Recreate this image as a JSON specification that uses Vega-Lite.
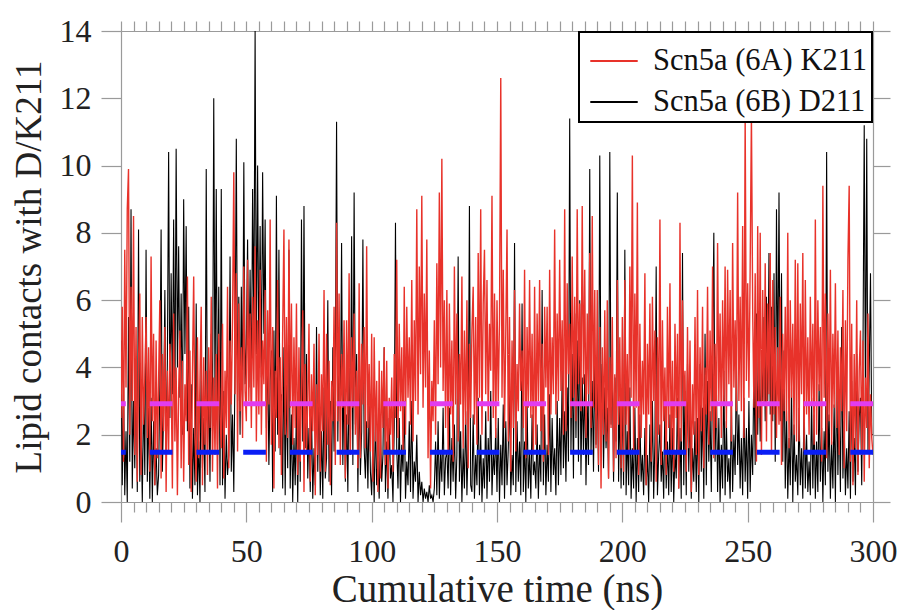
{
"$schema": "https://vega.github.io/schema/vega-lite/v6.json",
"width": 752, "height": 471,
"autosize": {"type": "none"},
"padding": {"left": 121, "top": 31, "right": 31, "bottom": 108},
"config": {
  "font": "Liberation Serif",
  "view": {"stroke": null},
  "axis": {"labelFont": "Liberation Serif", "titleFont": "Liberation Serif", "labelColor": "#222", "titleColor": "#222", "domainColor": "#9a9a9a", "tickColor": "#9a9a9a", "grid": false, "titleFontWeight": "normal", "domainWidth": 1.2, "tickWidth": 1.2},
  "legend": {"labelFont": "Liberation Serif", "labelFontSize": 30.5, "labelColor": "#111", "orient": "top-right", "offset": 1, "symbolType": "stroke", "symbolSize": 2250, "symbolStrokeWidth": 2.2, "padding": 4, "symbolOffset": 6, "rowPadding": 0, "fillColor": "white", "strokeColor": "black", "labelOffset": 14, "labelLimit": 400}
},
"data": {"values": [
{"t":0,"k":2.5,"d":4.8},{"t":0.5,"k":5.8,"d":0.5},{"t":1,"k":1.2,"d":3.6},{"t":1.5,"k":7.5,"d":0.2},{"t":2,"k":3.4,"d":2.1},{"t":2.5,"k":8.7,"d":0.0},{"t":3,"k":9.9,"d":5.5},{"t":3.5,"k":2.0,"d":1.2},{"t":4,"k":6.4,"d":8.7},{"t":4.5,"k":3.0,"d":0.4},
{"t":5,"k":8.5,"d":3.0},{"t":5.5,"k":1.4,"d":1.0},{"t":6,"k":5.2,"d":4.2},{"t":6.5,"k":0.6,"d":0.3},{"t":7,"k":4.1,"d":8.1},{"t":7.5,"k":6.2,"d":0.6},{"t":8,"k":0.8,"d":2.4},{"t":8.5,"k":5.5,"d":0.0},{"t":9,"k":2.3,"d":3.3},{"t":9.5,"k":3.7,"d":0.8},
{"t":10,"k":5.5,"d":7.5},{"t":10.5,"k":1.9,"d":0.6},{"t":11,"k":4.6,"d":2.8},{"t":11.5,"k":0.9,"d":0.1},{"t":12,"k":7.3,"d":3.1},{"t":12.5,"k":2.4,"d":0.0},{"t":13,"k":5.0,"d":2.4},{"t":13.5,"k":0.5,"d":0.5},{"t":14,"k":4.8,"d":1.6},{"t":14.5,"k":1.3,"d":0.2},
{"t":15,"k":3.6,"d":0.8},{"t":15.5,"k":6.0,"d":3.5},{"t":16,"k":0.7,"d":8.1},{"t":16.5,"k":4.4,"d":0.9},{"t":17,"k":2.1,"d":2.7},{"t":17.5,"k":5.2,"d":6.3},{"t":18,"k":0.3,"d":1.4},{"t":18.5,"k":3.9,"d":4.2},{"t":19,"k":1.5,"d":10.4},{"t":19.5,"k":4.7,"d":2.5},
{"t":20,"k":3.8,"d":6.8},{"t":20.5,"k":0.4,"d":3.2},{"t":21,"k":5.6,"d":8.4},{"t":21.5,"k":1.8,"d":2.7},{"t":22,"k":4.0,"d":10.5},{"t":22.5,"k":0.2,"d":4.0},{"t":23,"k":3.3,"d":7.6},{"t":23.5,"k":5.1,"d":3.1},{"t":24,"k":1.0,"d":6.2},{"t":24.5,"k":4.2,"d":2.0},
{"t":25,"k":0.6,"d":9.0},{"t":25.5,"k":3.5,"d":4.4},{"t":26,"k":2.4,"d":8.2},{"t":26.5,"k":6.7,"d":2.1},{"t":27,"k":1.1,"d":5.8},{"t":27.5,"k":4.5,"d":0.4},{"t":28,"k":0.3,"d":3.5},{"t":28.5,"k":3.8,"d":0.1},{"t":29,"k":6.7,"d":2.2},{"t":29.5,"k":2.0,"d":0.5},
{"t":30,"k":0.6,"d":5.9},{"t":30.5,"k":4.9,"d":0.2},{"t":31,"k":1.3,"d":1.8},{"t":31.5,"k":3.6,"d":0.0},{"t":32,"k":5.8,"d":4.1},{"t":32.5,"k":0.5,"d":1.0},{"t":33,"k":4.3,"d":2.5},{"t":33.5,"k":1.7,"d":0.3},{"t":34,"k":3.9,"d":9.9},{"t":34.5,"k":0.8,"d":1.4},
{"t":35,"k":4.6,"d":3.6},{"t":35.5,"k":2.2,"d":0.6},{"t":36,"k":6.1,"d":5.0},{"t":36.5,"k":0.9,"d":2.1},{"t":37,"k":3.7,"d":12.0},{"t":37.5,"k":1.4,"d":3.0},{"t":38,"k":4.4,"d":9.3},{"t":38.5,"k":0.4,"d":1.7},{"t":39,"k":5.0,"d":6.4},{"t":39.5,"k":2.6,"d":0.5},
{"t":40,"k":1.6,"d":9.3},{"t":40.5,"k":5.3,"d":0.5},{"t":41,"k":0.7,"d":3.3},{"t":41.5,"k":3.9,"d":0.1},{"t":42,"k":2.2,"d":2.0},{"t":42.5,"k":6.4,"d":0.8},{"t":43,"k":1.0,"d":1.4},{"t":43.5,"k":4.8,"d":7.3},{"t":44,"k":2.9,"d":0.9},{"t":44.5,"k":5.5,"d":2.6},
{"t":45,"k":9.8,"d":0.3},{"t":45.5,"k":3.2,"d":4.2},{"t":46,"k":6.8,"d":10.8},{"t":46.5,"k":1.5,"d":3.0},{"t":47,"k":5.9,"d":6.1},{"t":47.5,"k":2.7,"d":2.0},{"t":48,"k":4.6,"d":6.4},{"t":48.5,"k":1.9,"d":2.9},{"t":49,"k":7.0,"d":10.1},{"t":49.5,"k":3.3,"d":3.5},
{"t":50,"k":2.4,"d":4.6},{"t":50.5,"k":7.2,"d":7.8},{"t":51,"k":3.0,"d":3.4},{"t":51.5,"k":5.6,"d":6.9},{"t":52,"k":2.2,"d":3.0},{"t":52.5,"k":6.1,"d":9.3},{"t":53,"k":3.4,"d":5.2},{"t":53.5,"k":7.6,"d":14.0},{"t":54,"k":1.8,"d":4.4},{"t":54.5,"k":5.4,"d":10.0},
{"t":55,"k":2.6,"d":4.1},{"t":55.5,"k":6.9,"d":8.2},{"t":56,"k":2.0,"d":3.7},{"t":56.5,"k":4.8,"d":9.8},{"t":57,"k":3.5,"d":5.0},{"t":57.5,"k":6.3,"d":8.4},{"t":58,"k":1.2,"d":2.2},{"t":58.5,"k":5.7,"d":4.5},{"t":59,"k":2.9,"d":1.1},{"t":59.5,"k":8.4,"d":3.6},
{"t":60,"k":1.7,"d":4.5},{"t":60.5,"k":5.2,"d":0.3},{"t":61,"k":0.4,"d":5.1},{"t":61.5,"k":3.9,"d":1.5},{"t":62,"k":2.5,"d":9.1},{"t":62.5,"k":6.6,"d":2.0},{"t":63,"k":1.6,"d":7.5},{"t":63.5,"k":4.3,"d":1.4},{"t":64,"k":0.8,"d":3.2},{"t":64.5,"k":5.1,"d":0.4},
{"t":65,"k":8.1,"d":4.6},{"t":65.5,"k":2.0,"d":0.2},{"t":66,"k":5.5,"d":3.8},{"t":66.5,"k":1.9,"d":1.0},{"t":67,"k":7.8,"d":7.5},{"t":67.5,"k":2.8,"d":0.4},{"t":68,"k":5.9,"d":2.6},{"t":68.5,"k":1.7,"d":0.0},{"t":69,"k":4.9,"d":1.9},{"t":69.5,"k":2.2,"d":0.5},
{"t":70,"k":5.9,"d":2.9},{"t":70.5,"k":0.8,"d":0.0},{"t":71,"k":4.6,"d":3.3},{"t":71.5,"k":1.2,"d":0.6},{"t":72,"k":3.4,"d":8.4},{"t":72.5,"k":5.7,"d":1.8},{"t":73,"k":0.3,"d":8.8},{"t":73.5,"k":4.1,"d":1.6},{"t":74,"k":1.5,"d":4.4},{"t":74.5,"k":3.0,"d":0.7},
{"t":75,"k":5.3,"d":2.2},{"t":75.5,"k":0.6,"d":0.3},{"t":76,"k":3.8,"d":2.7},{"t":76.5,"k":2.1,"d":0.1},{"t":77,"k":4.7,"d":1.6},{"t":77.5,"k":0.2,"d":0.5},{"t":78,"k":3.5,"d":5.2},{"t":78.5,"k":1.4,"d":0.9},{"t":79,"k":5.0,"d":3.4},{"t":79.5,"k":0.9,"d":0.2},
{"t":80,"k":3.8,"d":2.1},{"t":80.5,"k":2.1,"d":0.1},{"t":81,"k":6.3,"d":3.4},{"t":81.5,"k":0.9,"d":0.7},{"t":82,"k":5.0,"d":1.3},{"t":82.5,"k":1.7,"d":6.0},{"t":83,"k":4.2,"d":0.6},{"t":83.5,"k":0.5,"d":3.0},{"t":84,"k":3.6,"d":0.2},{"t":84.5,"k":2.4,"d":4.6},
{"t":85,"k":5.8,"d":1.5},{"t":85.5,"k":1.1,"d":3.7},{"t":86,"k":8.3,"d":11.3},{"t":86.5,"k":2.4,"d":1.8},{"t":87,"k":6.2,"d":5.2},{"t":87.5,"k":1.1,"d":2.4},{"t":88,"k":4.4,"d":7.7},{"t":88.5,"k":2.8,"d":1.1},{"t":89,"k":5.4,"d":3.8},{"t":89.5,"k":0.7,"d":0.6},
{"t":90,"k":5.4,"d":2.6},{"t":90.5,"k":2.3,"d":0.3},{"t":91,"k":6.8,"d":4.0},{"t":91.5,"k":1.4,"d":1.5},{"t":92,"k":4.9,"d":7.9},{"t":92.5,"k":2.8,"d":1.1},{"t":93,"k":5.6,"d":9.2},{"t":93.5,"k":2.0,"d":2.3},{"t":94,"k":3.9,"d":4.4},{"t":94.5,"k":1.0,"d":0.3},
{"t":95,"k":6.5,"d":3.5},{"t":95.5,"k":1.3,"d":0.8},{"t":96,"k":4.7,"d":2.1},{"t":96.5,"k":2.9,"d":7.8},{"t":97,"k":5.2,"d":1.6},{"t":97.5,"k":1.6,"d":0.7},{"t":98,"k":7.6,"d":2.4},{"t":98.5,"k":2.2,"d":0.4},{"t":99,"k":4.1,"d":3.1},{"t":99.5,"k":1.5,"d":0.9},
{"t":100,"k":5.0,"d":0.2},{"t":100.5,"k":0.6,"d":1.9},{"t":101,"k":4.9,"d":0.0},{"t":101.5,"k":1.8,"d":2.6},{"t":102,"k":3.6,"d":0.5},{"t":102.5,"k":0.3,"d":1.2},{"t":103,"k":4.2,"d":0.1},{"t":103.5,"k":0.7,"d":2.2},{"t":104,"k":3.9,"d":0.6},{"t":104.5,"k":2.2,"d":1.4},
{"t":105,"k":4.6,"d":4.6},{"t":105.5,"k":1.1,"d":0.3},{"t":106,"k":4.2,"d":1.8},{"t":106.5,"k":0.4,"d":0.1},{"t":107,"k":3.1,"d":2.5},{"t":107.5,"k":2.0,"d":0.7},{"t":108,"k":3.7,"d":1.1},{"t":108.5,"k":0.9,"d":0.0},{"t":109,"k":4.4,"d":2.2},{"t":109.5,"k":2.5,"d":8.3},
{"t":110,"k":7.2,"d":1.6},{"t":110.5,"k":1.9,"d":0.4},{"t":111,"k":5.3,"d":2.5},{"t":111.5,"k":2.7,"d":0.0},{"t":112,"k":4.6,"d":1.7},{"t":112.5,"k":1.5,"d":0.9},{"t":113,"k":6.4,"d":3.0},{"t":113.5,"k":2.0,"d":0.1},{"t":114,"k":5.8,"d":1.2},{"t":114.5,"k":3.1,"d":0.5},
{"t":115,"k":4.9,"d":2.4},{"t":115.5,"k":2.3,"d":0.3},{"t":116,"k":6.6,"d":3.0},{"t":116.5,"k":1.8,"d":0.1},{"t":117,"k":5.4,"d":1.2},{"t":117.5,"k":3.0,"d":0.6},{"t":118,"k":8.7,"d":2.0},{"t":118.5,"k":2.6,"d":0.0},{"t":119,"k":7.0,"d":0.9},{"t":119.5,"k":3.8,"d":0.2},
{"t":120,"k":9.1,"d":0.6},{"t":120.5,"k":2.8,"d":0.0},{"t":121,"k":6.2,"d":0.4},{"t":121.5,"k":3.4,"d":0.1},{"t":122,"k":7.8,"d":0.3},{"t":122.5,"k":1.3,"d":0.0},{"t":123,"k":4.5,"d":0.5},{"t":123.5,"k":0.4,"d":0.1},{"t":124,"k":3.6,"d":0.2},{"t":124.5,"k":2.4,"d":0.0},
{"t":125,"k":5.4,"d":0.4},{"t":125.5,"k":2.0,"d":1.8},{"t":126,"k":7.1,"d":0.2},{"t":126.5,"k":3.5,"d":2.4},{"t":127,"k":9.2,"d":0.1},{"t":127.5,"k":4.0,"d":1.5},{"t":128,"k":10.2,"d":0.6},{"t":128.5,"k":3.3,"d":2.8},{"t":129,"k":6.0,"d":0.2},{"t":129.5,"k":2.2,"d":1.3},
{"t":130,"k":6.3,"d":1.5},{"t":130.5,"k":1.4,"d":0.4},{"t":131,"k":5.9,"d":2.8},{"t":131.5,"k":2.6,"d":0.2},{"t":132,"k":4.8,"d":1.9},{"t":132.5,"k":1.2,"d":0.6},{"t":133,"k":7.0,"d":2.3},{"t":133.5,"k":2.9,"d":0.1},{"t":134,"k":5.6,"d":1.4},{"t":134.5,"k":1.8,"d":7.3},
{"t":135,"k":4.4,"d":0.6},{"t":135.5,"k":2.9,"d":2.1},{"t":136,"k":6.7,"d":0.0},{"t":136.5,"k":1.6,"d":1.6},{"t":137,"k":5.1,"d":0.4},{"t":137.5,"k":2.3,"d":2.7},{"t":138,"k":6.0,"d":0.2},{"t":138.5,"k":1.0,"d":1.8},{"t":139,"k":4.7,"d":8.8},{"t":139.5,"k":2.5,"d":0.5},
{"t":140,"k":5.1,"d":0.3},{"t":140.5,"k":6.4,"d":2.6},{"t":141,"k":2.3,"d":0.1},{"t":141.5,"k":5.5,"d":1.4},{"t":142,"k":1.7,"d":0.5},{"t":142.5,"k":7.4,"d":3.1},{"t":143,"k":3.1,"d":0.2},{"t":143.5,"k":8.7,"d":2.0},{"t":144,"k":2.0,"d":0.0},{"t":144.5,"k":5.9,"d":1.3},
{"t":145,"k":7.5,"d":0.4},{"t":145.5,"k":3.2,"d":2.7},{"t":146,"k":6.6,"d":0.1},{"t":146.5,"k":2.4,"d":1.9},{"t":147,"k":5.3,"d":0.6},{"t":147.5,"k":3.9,"d":3.3},{"t":148,"k":9.1,"d":0.2},{"t":148.5,"k":2.5,"d":1.5},{"t":149,"k":6.2,"d":0.8},{"t":149.5,"k":1.9,"d":2.2},
{"t":150,"k":6.0,"d":0.3},{"t":150.5,"k":3.0,"d":2.5},{"t":151,"k":5.4,"d":0.0},{"t":151.5,"k":12.6,"d":1.7},{"t":152,"k":3.1,"d":0.5},{"t":152.5,"k":6.9,"d":2.9},{"t":153,"k":2.2,"d":0.1},{"t":153.5,"k":5.0,"d":2.4},{"t":154,"k":8.1,"d":0.5},{"t":154.5,"k":1.8,"d":1.6},
{"t":155,"k":5.5,"d":3.3},{"t":155.5,"k":0.9,"d":0.2},{"t":156,"k":4.8,"d":1.4},{"t":156.5,"k":2.2,"d":0.5},{"t":157,"k":6.3,"d":7.7},{"t":157.5,"k":1.5,"d":0.3},{"t":158,"k":4.1,"d":2.4},{"t":158.5,"k":2.7,"d":0.6},{"t":159,"k":5.9,"d":1.8},{"t":159.5,"k":3.3,"d":0.2},
{"t":160,"k":4.5,"d":5.9},{"t":160.5,"k":2.2,"d":0.3},{"t":161,"k":6.9,"d":1.8},{"t":161.5,"k":1.3,"d":0.0},{"t":162,"k":5.2,"d":2.9},{"t":162.5,"k":2.8,"d":0.4},{"t":163,"k":6.6,"d":1.5},{"t":163.5,"k":2.5,"d":0.1},{"t":164,"k":5.0,"d":2.6},{"t":164.5,"k":1.4,"d":0.8},
{"t":165,"k":6.4,"d":1.2},{"t":165.5,"k":1.7,"d":0.4},{"t":166,"k":5.6,"d":2.3},{"t":166.5,"k":3.0,"d":0.1},{"t":167,"k":6.6,"d":1.7},{"t":167.5,"k":2.1,"d":0.6},{"t":168,"k":4.7,"d":6.3},{"t":168.5,"k":1.2,"d":0.5},{"t":169,"k":5.8,"d":2.6},{"t":169.5,"k":3.4,"d":0.2},
{"t":170,"k":5.8,"d":1.7},{"t":170.5,"k":1.4,"d":0.6},{"t":171,"k":6.9,"d":3.2},{"t":171.5,"k":2.6,"d":0.3},{"t":172,"k":4.9,"d":2.5},{"t":172.5,"k":3.2,"d":0.8},{"t":173,"k":8.1,"d":1.6},{"t":173.5,"k":2.6,"d":0.2},{"t":174,"k":5.6,"d":3.0},{"t":174.5,"k":3.0,"d":0.5},
{"t":175,"k":7.2,"d":2.5},{"t":175.5,"k":3.3,"d":0.8},{"t":176,"k":5.4,"d":3.9},{"t":176.5,"k":2.0,"d":1.0},{"t":177,"k":8.7,"d":2.7},{"t":177.5,"k":2.1,"d":0.6},{"t":178,"k":6.5,"d":3.4},{"t":178.5,"k":3.8,"d":1.2},{"t":179,"k":5.3,"d":11.4},{"t":179.5,"k":2.5,"d":1.5},
{"t":180,"k":7.3,"d":4.4},{"t":180.5,"k":3.1,"d":0.7},{"t":181,"k":6.1,"d":5.6},{"t":181.5,"k":2.4,"d":1.9},{"t":182,"k":8.7,"d":4.8},{"t":182.5,"k":3.5,"d":1.2},{"t":183,"k":5.9,"d":6.0},{"t":183.5,"k":2.7,"d":0.8},{"t":184,"k":8.8,"d":3.7},{"t":184.5,"k":3.5,"d":1.4},
{"t":185,"k":6.9,"d":3.8},{"t":185.5,"k":1.9,"d":0.5},{"t":186,"k":5.6,"d":2.9},{"t":186.5,"k":3.2,"d":1.1},{"t":187,"k":7.4,"d":9.9},{"t":187.5,"k":2.2,"d":1.4},{"t":188,"k":8.5,"d":3.6},{"t":188.5,"k":2.8,"d":0.9},{"t":189,"k":6.3,"d":4.2},{"t":189.5,"k":1.6,"d":1.7},
{"t":190,"k":6.3,"d":3.6},{"t":190.5,"k":1.1,"d":0.9},{"t":191,"k":5.2,"d":10.3},{"t":191.5,"k":0.4,"d":2.3},{"t":192,"k":4.6,"d":4.1},{"t":192.5,"k":2.0,"d":1.0},{"t":193,"k":5.7,"d":3.4},{"t":193.5,"k":1.8,"d":1.6},{"t":194,"k":6.0,"d":2.8},{"t":194.5,"k":0.7,"d":0.7},
{"t":195,"k":4.3,"d":10.4},{"t":195.5,"k":2.2,"d":2.3},{"t":196,"k":5.5,"d":4.1},{"t":196.5,"k":0.9,"d":0.6},{"t":197,"k":3.8,"d":3.7},{"t":197.5,"k":1.3,"d":1.8},{"t":198,"k":6.6,"d":9.2},{"t":198.5,"k":2.3,"d":0.6},{"t":199,"k":4.9,"d":3.0},{"t":199.5,"k":1.0,"d":0.4},
{"t":200,"k":5.5,"d":3.2},{"t":200.5,"k":0.9,"d":0.5},{"t":201,"k":6.6,"d":7.5},{"t":201.5,"k":2.3,"d":0.2},{"t":202,"k":4.4,"d":2.1},{"t":202.5,"k":1.5,"d":0.5},{"t":203,"k":7.0,"d":3.4},{"t":203.5,"k":3.1,"d":0.1},{"t":204,"k":10.3,"d":1.6},{"t":204.5,"k":1.5,"d":0.4},
{"t":205,"k":6.2,"d":2.8},{"t":205.5,"k":2.8,"d":0.0},{"t":206,"k":8.9,"d":1.9},{"t":206.5,"k":0.8,"d":0.3},{"t":207,"k":5.3,"d":2.6},{"t":207.5,"k":1.9,"d":0.6},{"t":208,"k":4.2,"d":1.4},{"t":208.5,"k":2.6,"d":0.2},{"t":209,"k":6.8,"d":2.2},{"t":209.5,"k":0.5,"d":0.5},
{"t":210,"k":4.7,"d":1.4},{"t":210.5,"k":2.6,"d":0.0},{"t":211,"k":5.9,"d":2.3},{"t":211.5,"k":1.2,"d":0.6},{"t":212,"k":6.1,"d":3.0},{"t":212.5,"k":3.0,"d":0.1},{"t":213,"k":5.1,"d":1.8},{"t":213.5,"k":0.6,"d":7.0},{"t":214,"k":4.9,"d":0.2},{"t":214.5,"k":2.0,"d":1.4},
{"t":215,"k":8.4,"d":2.3},{"t":215.5,"k":1.1,"d":0.6},{"t":216,"k":5.4,"d":1.5},{"t":216.5,"k":2.4,"d":0.1},{"t":217,"k":4.0,"d":3.0},{"t":217.5,"k":0.8,"d":0.4},{"t":218,"k":5.8,"d":1.8},{"t":218.5,"k":2.2,"d":0.2},{"t":219,"k":6.5,"d":2.6},{"t":219.5,"k":1.4,"d":0.3},
{"t":220,"k":4.2,"d":2.2},{"t":220.5,"k":0.9,"d":0.0},{"t":221,"k":5.3,"d":1.5},{"t":221.5,"k":2.5,"d":0.7},{"t":222,"k":5.0,"d":3.1},{"t":222.5,"k":0.4,"d":0.4},{"t":223,"k":8.3,"d":2.2},{"t":223.5,"k":1.8,"d":0.1},{"t":224,"k":6.0,"d":7.4},{"t":224.5,"k":2.9,"d":0.5},
{"t":225,"k":3.9,"d":3.3},{"t":225.5,"k":0.9,"d":0.2},{"t":226,"k":5.2,"d":4.1},{"t":226.5,"k":1.6,"d":0.9},{"t":227,"k":4.8,"d":2.8},{"t":227.5,"k":0.3,"d":0.1},{"t":228,"k":3.5,"d":1.6},{"t":228.5,"k":2.0,"d":0.6},{"t":229,"k":5.5,"d":2.4},{"t":229.5,"k":1.4,"d":0.3},
{"t":230,"k":6.3,"d":2.5},{"t":230.5,"k":0.8,"d":0.0},{"t":231,"k":4.6,"d":4.1},{"t":231.5,"k":2.1,"d":0.9},{"t":232,"k":5.8,"d":2.8},{"t":232.5,"k":1.0,"d":0.1},{"t":233,"k":4.0,"d":5.0},{"t":233.5,"k":2.6,"d":0.5},{"t":234,"k":6.4,"d":3.6},{"t":234.5,"k":1.7,"d":1.2},
{"t":235,"k":5.1,"d":2.7},{"t":235.5,"k":2.4,"d":0.3},{"t":236,"k":7.0,"d":4.2},{"t":236.5,"k":1.3,"d":8.0},{"t":237,"k":4.7,"d":1.2},{"t":237.5,"k":2.2,"d":3.6},{"t":238,"k":7.7,"d":0.3},{"t":238.5,"k":3.0,"d":2.5},{"t":239,"k":5.6,"d":0.0},{"t":239.5,"k":1.9,"d":1.7},
{"t":240,"k":6.0,"d":0.4},{"t":240.5,"k":2.9,"d":3.9},{"t":241,"k":7.0,"d":0.2},{"t":241.5,"k":2.2,"d":2.4},{"t":242,"k":6.9,"d":0.6},{"t":242.5,"k":3.5,"d":1.3},{"t":243,"k":6.3,"d":0.1},{"t":243.5,"k":1.8,"d":3.0},{"t":244,"k":7.7,"d":0.3},{"t":244.5,"k":3.4,"d":2.0},
{"t":245,"k":5.4,"d":0.8},{"t":245.5,"k":2.7,"d":4.2},{"t":246,"k":9.2,"d":1.1},{"t":246.5,"k":3.0,"d":2.6},{"t":247,"k":6.1,"d":0.4},{"t":247.5,"k":2.7,"d":1.9},{"t":248,"k":8.2,"d":0.2},{"t":248.5,"k":1.9,"d":3.1},{"t":249,"k":11.5,"d":0.6},{"t":249.5,"k":3.6,"d":2.2},
{"t":250,"k":6.5,"d":0.1},{"t":250.5,"k":3.1,"d":3.0},{"t":251,"k":7.0,"d":0.3},{"t":251.5,"k":11.5,"d":2.0},{"t":252,"k":5.7,"d":0.8},{"t":252.5,"k":2.8,"d":4.2},{"t":253,"k":6.8,"d":1.1},{"t":253.5,"k":1.2,"d":5.6},{"t":254,"k":8.2,"d":2.0},{"t":254.5,"k":2.5,"d":4.4},
{"t":255,"k":8.0,"d":1.8},{"t":255.5,"k":1.4,"d":4.2},{"t":256,"k":6.3,"d":3.0},{"t":256.5,"k":2.9,"d":5.5},{"t":257,"k":7.1,"d":2.4},{"t":257.5,"k":1.8,"d":6.1},{"t":258,"k":5.9,"d":3.0},{"t":258.5,"k":3.2,"d":7.4},{"t":259,"k":7.4,"d":2.6},{"t":259.5,"k":1.5,"d":5.8},
{"t":260,"k":6.6,"d":2.4},{"t":260.5,"k":2.6,"d":6.8},{"t":261,"k":5.2,"d":1.2},{"t":261.5,"k":1.9,"d":8.7},{"t":262,"k":4.6,"d":3.3},{"t":262.5,"k":2.3,"d":9.2},{"t":263,"k":6.1,"d":2.4},{"t":263.5,"k":1.1,"d":6.8},{"t":264,"k":5.0,"d":1.2},{"t":264.5,"k":2.7,"d":4.5},
{"t":265,"k":5.8,"d":0.4},{"t":265.5,"k":2.4,"d":2.7},{"t":266,"k":8.0,"d":0.1},{"t":266.5,"k":1.6,"d":1.9},{"t":267,"k":6.0,"d":0.5},{"t":267.5,"k":3.1,"d":3.4},{"t":268,"k":5.3,"d":0.0},{"t":268.5,"k":2.0,"d":2.3},{"t":269,"k":7.2,"d":0.6},{"t":269.5,"k":1.8,"d":1.4},
{"t":270,"k":7.1,"d":0.2},{"t":270.5,"k":1.8,"d":2.8},{"t":271,"k":5.9,"d":0.5},{"t":271.5,"k":3.2,"d":1.6},{"t":272,"k":7.4,"d":0.1},{"t":272.5,"k":1.5,"d":3.1},{"t":273,"k":6.6,"d":0.4},{"t":273.5,"k":2.6,"d":2.0},{"t":274,"k":4.9,"d":0.3},{"t":274.5,"k":2.0,"d":1.2},
{"t":275,"k":6.1,"d":0.2},{"t":275.5,"k":2.9,"d":3.1},{"t":276,"k":5.3,"d":0.4},{"t":276.5,"k":1.7,"d":2.6},{"t":277,"k":8.4,"d":0.1},{"t":277.5,"k":2.0,"d":1.8},{"t":278,"k":6.0,"d":0.3},{"t":278.5,"k":3.3,"d":3.5},{"t":279,"k":5.2,"d":0.6},{"t":279.5,"k":1.2,"d":2.2},
{"t":280,"k":9.4,"d":0.0},{"t":280.5,"k":3.1,"d":2.1},{"t":281,"k":6.2,"d":0.5},{"t":281.5,"k":1.3,"d":10.4},{"t":282,"k":5.6,"d":0.9},{"t":282.5,"k":2.4,"d":2.6},{"t":283,"k":6.9,"d":0.1},{"t":283.5,"k":1.7,"d":1.8},{"t":284,"k":5.0,"d":0.4},{"t":284.5,"k":2.8,"d":2.9},
{"t":285,"k":6.5,"d":0.0},{"t":285.5,"k":2.2,"d":4.0},{"t":286,"k":5.1,"d":0.8},{"t":286.5,"k":1.4,"d":2.9},{"t":287,"k":4.6,"d":0.3},{"t":287.5,"k":2.7,"d":5.2},{"t":288,"k":6.3,"d":0.7},{"t":288.5,"k":1.0,"d":2.4},{"t":289,"k":5.4,"d":0.2},{"t":289.5,"k":2.1,"d":1.6},
{"t":290,"k":7.2,"d":0.4},{"t":290.5,"k":9.4,"d":2.7},{"t":291,"k":1.2,"d":0.1},{"t":291.5,"k":5.3,"d":3.6},{"t":292,"k":0.5,"d":0.6},{"t":292.5,"k":4.4,"d":1.9},{"t":293,"k":1.6,"d":0.2},{"t":293.5,"k":6.0,"d":4.4},{"t":294,"k":0.8,"d":0.9},{"t":294.5,"k":3.9,"d":2.5},
{"t":295,"k":5.1,"d":3.1},{"t":295.5,"k":1.4,"d":0.5},{"t":296,"k":4.8,"d":4.4},{"t":296.5,"k":0.6,"d":11.2},{"t":297,"k":3.7,"d":2.6},{"t":297.5,"k":2.2,"d":10.8},{"t":298,"k":5.6,"d":1.5},{"t":298.5,"k":1.0,"d":3.9},{"t":299,"k":3.2,"d":6.8},{"t":299.5,"k":1.9,"d":2.0},
{"t":300,"k":1.4,"d":2.0}
]},
"layer": [
  {
    "mark": {"type": "line", "strokeWidth": 1.1, "clip": true},
    "encoding": {
      "x": {"field": "t", "type": "quantitative", "scale": {"domain": [0, 300], "nice": false},
        "axis": {"orient": "top", "values": [0,5,10,15,20,25,30,35,40,45,50,55,60,65,70,75,80,85,90,95,100,105,110,115,120,125,130,135,140,145,150,155,160,165,170,175,180,185,190,195,200,205,210,215,220,225,230,235,240,245,250,255,260,265,270,275,280,285,290,295,300], "tickSize": 10, "labels": false, "title": null}},
      "y": {"field": "d", "type": "quantitative", "scale": {"domain": [0, 14], "nice": false},
        "axis": {"orient": "right", "values": [0,2,4,6,8,10,12,14], "tickSize": 17, "labels": false, "title": null}},
      "color": {"datum": "Scn5a (6B) D211", "type": "nominal",
        "scale": {"domain": ["Scn5a (6A) K211", "Scn5a (6B) D211"], "range": ["#e8322a", "#000000"]},
        "legend": {"title": null, "encode": {"legend": {"update": {"strokeWidth": {"value": 2}}}}}}
    }
  },
  {
    "mark": {"type": "line", "strokeWidth": 1.4, "clip": true},
    "encoding": {
      "x": {"field": "t", "type": "quantitative",
        "axis": {"orient": "bottom", "values": [0,5,10,15,20,25,30,35,40,45,50,55,60,65,70,75,80,85,90,95,100,105,110,115,120,125,130,135,140,145,150,155,160,165,170,175,180,185,190,195,200,205,210,215,220,225,230,235,240,245,250,255,260,265,270,275,280,285,290,295,300],
          "tickSize": {"condition": {"test": "datum.value % 50 === 0", "value": 20}, "value": 10},
          "labelExpr": "datum.value % 50 === 0 ? datum.label : ''", "labelOverlap": false, "labelFlush": false,
          "labelFontSize": 32, "labelPadding": 14, "title": "Cumulative time (ns)", "titleFontSize": 39, "titlePadding": 3}},
      "y": {"field": "k", "type": "quantitative",
        "axis": {"orient": "left", "values": [0,2,4,6,8,10,12,14], "tickSize": 20, "labelFontSize": 32, "labelPadding": 10, "title": "Lipid contacts with D/K211", "titleFontSize": 37, "titlePadding": 11}},
      "color": {"datum": "Scn5a (6A) K211", "type": "nominal",
        "legend": {"title": null, "encode": {"legend": {"update": {"strokeWidth": {"value": 2}}}}}}
    }
  },
  {
    "data": {"values": [{"mean": 2.92}]},
    "mark": {"type": "rule", "stroke": "#e23cf0", "strokeWidth": 5, "strokeDash": [22.7, 24]},
    "encoding": {"y": {"field": "mean", "type": "quantitative", "axis": null}}
  },
  {
    "data": {"values": [{"mean": 1.48}]},
    "mark": {"type": "rule", "stroke": "#0a1ef5", "strokeWidth": 5, "strokeDash": [22.7, 24]},
    "encoding": {"y": {"field": "mean", "type": "quantitative", "axis": null}}
  }
],
"resolve": {"axis": {"x": "independent", "y": "independent"}}
}
